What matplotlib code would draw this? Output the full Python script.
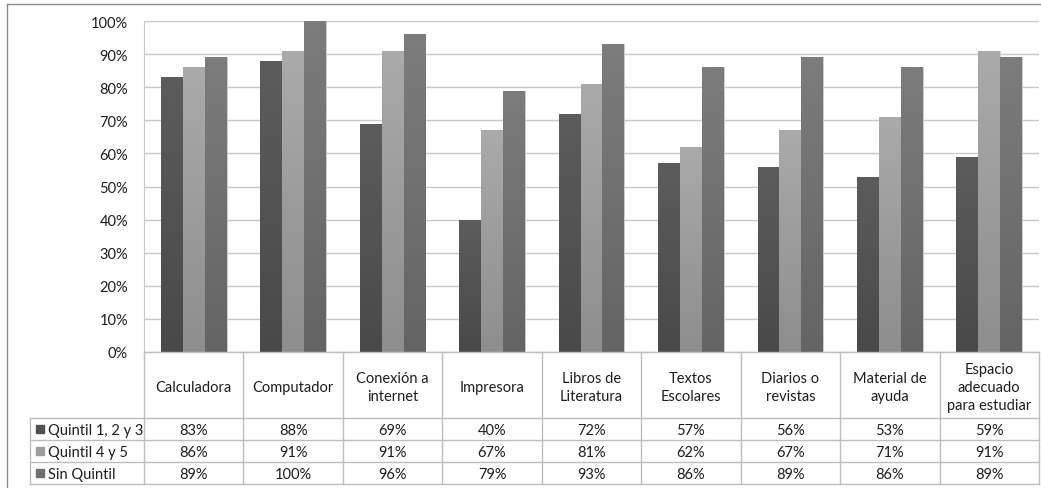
import numpy as np
import matplotlib.pyplot as plt
from matplotlib.colors import LinearSegmentedColormap
from matplotlib.lines import Line2D
from matplotlib.patches import Rectangle

categories = ["Calculadora", "Computador", "Conexión a\ninternet", "Impresora",
              "Libros de\nLiteratura", "Textos\nEscolares", "Diarios o\nrevistas",
              "Material de\nayuda", "Espacio\nadecuado\npara estudiar"]
series_names = ["Quintil 1, 2 y 3", "Quintil 4 y 5", "Sin Quintil"]
q123 = [83, 88, 69, 40, 72, 57, 56, 53, 59]
q45 = [86, 91, 91, 67, 81, 62, 67, 71, 91]
sin_q = [89, 100, 96, 79, 93, 86, 89, 86, 89]
series = [q123, q45, sin_q]
yticks = list(range(0, 101, 10))

# (top, bottom) colours for the gradient fill of each series
grad_colors = [("#5c5c5c", "#494949"), ("#aaaaaa", "#8e8e8e"), ("#7c7c7c", "#646464")]
key_colors = ["#505050", "#9c9c9c", "#6e6e6e"]
txt_c = "#1e1e1e"

plt.rcParams["font.family"] = ["Lato", "DejaVu Sans"]

W, H = 1041, 489
fig = plt.figure(figsize=(W / 100, H / 100), dpi=100)


def fx(px):
    return px / W


def fy(py):
    return 1 - py / H


left, right, top, bottom = 144, 1039, 22, 353
ax = fig.add_axes([fx(left), fy(bottom), fx(right) - fx(left), fy(top) - fy(bottom)])

n = len(categories)
x = np.arange(n)
bw = 0.22
for i, vals in enumerate(series):
    cmap = LinearSegmentedColormap.from_list("g%d" % i, [grad_colors[i][1], grad_colors[i][0]])
    bars = ax.bar(x + (i - 1) * bw, vals, bw, color=grad_colors[i][0],
                  edgecolor="#d0d0d0", linewidth=0.6, zorder=2)
    for b in bars:
        x0, w, h = b.get_x(), b.get_width(), b.get_height()
        grad = np.linspace(0, 1, 100).reshape(-1, 1)
        im = ax.imshow(grad, cmap=cmap, origin="lower", aspect="auto",
                       extent=[x0, x0 + w, 0, h], zorder=2.5)
        im.set_clip_path(b)

ax.set_xlim(-0.5, n - 0.5)
ax.set_ylim(0, 100)
ax.set_yticks(yticks)
ax.set_yticklabels([f"{t}%" for t in yticks], fontsize=10.5, color=txt_c)
ax.tick_params(axis="y", length=0, pad=11.5)
ax.set_xticks([])
ax.grid(axis="y", color="#c8c8c8", linewidth=1, zorder=0)
for s in ["top", "right", "bottom"]:
    ax.spines[s].set_visible(False)
ax.spines["left"].set_color("#c8c8c8")

# data table under the plot
line_c = "#bdbdbd"
cat_w = (right - left) / n
head_top, head_bot = 353, 419
row_h = 22
rows_bot = head_bot + 3 * row_h


def hline(y, x0, x1, color=line_c):
    fig.add_artist(Line2D([fx(x0), fx(x1)], [fy(y), fy(y)], color=color, lw=1))


def vline(xp, y0, y1, color=line_c):
    fig.add_artist(Line2D([fx(xp), fx(xp)], [fy(y0), fy(y1)], color=color, lw=1))


hline(head_top, left, right)
for r in range(4):
    hline(head_bot + r * row_h, 30, right)
vline(30, head_bot, rows_bot)
for k in range(n + 1):
    vline(left + k * cat_w, head_top, rows_bot)

for k, cat in enumerate(categories):
    cx = left + (k + 0.5) * cat_w
    fig.text(fx(cx), fy((head_top + head_bot) / 2 + 2), cat, ha="center", va="center",
             fontsize=10.5, color=txt_c, linespacing=1.4)
    for r, vals in enumerate(series):
        fig.text(fx(cx), fy(head_bot + (r + 0.5) * row_h + 1), f"{vals[k]}%",
                 ha="center", va="center", fontsize=10.5, color=txt_c)

for r, name in enumerate(series_names):
    cy = head_bot + (r + 0.5) * row_h
    fig.add_artist(Rectangle((fx(36), fy(cy + 4)), fx(8), 8 / H,
                             color=key_colors[r], transform=fig.transFigure))
    fig.text(fx(48), fy(cy + 1), name, ha="left", va="center", fontsize=10.5, color=txt_c)

# chart frame
hline(5, 7, W, color="#8a8a8a")
vline(7, 5, H, color="#8a8a8a")

fig.savefig("out.png", dpi=100)
